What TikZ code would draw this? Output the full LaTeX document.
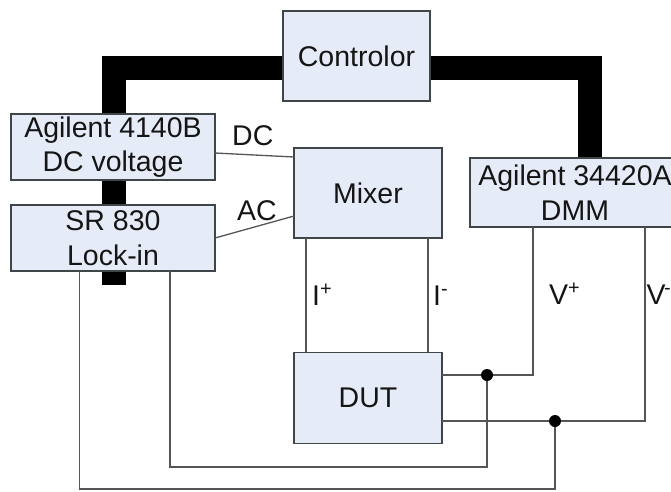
\documentclass[tikz,border=0pt]{standalone}
\usepackage{fontspec}
\setmainfont{Liberation Sans}
\tikzset{
  box/.style={draw=boxline,fill=boxfill,line width=1.3pt,inner sep=0pt,align=center,text=txt,
    font=\fontsize{28.5}{34.5}\selectfont},
  wire/.style={draw=wirecol,line width=1.3pt},
  bus/.style={draw=black,line width=24pt,line join=miter},
  lab/.style={anchor=base west,inner sep=0pt,text=txt,font=\fontsize{28.5}{34}\selectfont},
  jn/.style={circle,fill=black,inner sep=0pt,minimum size=12pt}
}
\definecolor{boxfill}{HTML}{E6ECF7}
\definecolor{boxline}{HTML}{404548}
\definecolor{wirecol}{HTML}{555555}
\definecolor{txt}{HTML}{151515}
\begin{document}
\begin{tikzpicture}[x=1pt,y=-1pt]
\useasboundingbox (0,0) rectangle (671,491);
\clip (0,0) rectangle (671,491);
% bus coordinates
\coordinate (busL) at (114,68);
\coordinate (busR) at (589.5,68);
\coordinate (busEnd) at (114,285);
\coordinate (busDmm) at (589.5,228);
\draw[bus] (busEnd) -- (busL) -- (busR) -- (busDmm);
% boxes
\node[box,minimum width=147pt,minimum height=90pt] (ctrl) at (356.5,56) {Controlor};
\node[box,minimum width=204pt,minimum height=66pt] (dc) at (113,147) {Agilent 4140B\\DC voltage};
\node[box,minimum width=204pt,minimum height=66pt] (sr) at (113,238) {SR 830\\Lock-in};
\node[box,minimum width=148pt,minimum height=90pt] (mix) at (368,193) {Mixer};
\node[box,minimum width=210pt,minimum height=69pt] (dmm) at (575,192.5) {Agilent 34420A\\DMM};
\node[box,minimum width=148pt,minimum height=91pt] (dut) at (368,398) {DUT};
% wires
\coordinate (dcw) at (215,153);
\coordinate (mixdc) at (294,157);
\draw[wire] (dcw) -- (mixdc);
\coordinate (srac) at (215,238);
\coordinate (mixac) at (294,216);
\draw[wire] (srac) -- (mixac);
\coordinate (ip1) at (306,238);
\coordinate (ip2) at (306,352);
\draw[wire] (ip1) -- (ip2);
\coordinate (im1) at (428,238);
\coordinate (im2) at (428,352);
\draw[wire] (im1) -- (im2);
\node[jn] (j1) at (487,375) {};
\node[jn] (j2) at (555,421) {};
\coordinate (vp1) at (533,227);
\coordinate (vp2) at (533,375);
\coordinate (du1) at (442,375);
\draw[wire] (vp1) -- (vp2) -- (j1) -- (du1);
\coordinate (vm1) at (645,227);
\coordinate (vm2) at (645,421);
\coordinate (du2) at (442,421);
\draw[wire] (vm1) -- (vm2) -- (j2) -- (du2);
\coordinate (s1) at (170,271);
\coordinate (s2) at (170,467);
\coordinate (s3) at (487,467);
\draw[wire] (s1) -- (s2) -- (s3) -- (j1);
\coordinate (t1) at (79.5,271);
\coordinate (t2) at (79.5,489);
\coordinate (t3) at (555,489);
\draw[wire] (t1) -- (t2) -- (t3) -- (j2);
% labels
\node[lab] (ldc) at (232,145) {DC};
\node[lab] (lac) at (237,220) {AC};
\node[lab] (lip) at (312,305) {I\textsuperscript{+}};
\node[lab] (lim) at (433,305) {I\textsuperscript{-}};
\node[lab] (lvp) at (549,304) {V\textsuperscript{+}};
\node[lab] (lvm) at (646.5,304) {V\kern-1.5pt\textsuperscript{-}};
\end{tikzpicture}
\end{document}
